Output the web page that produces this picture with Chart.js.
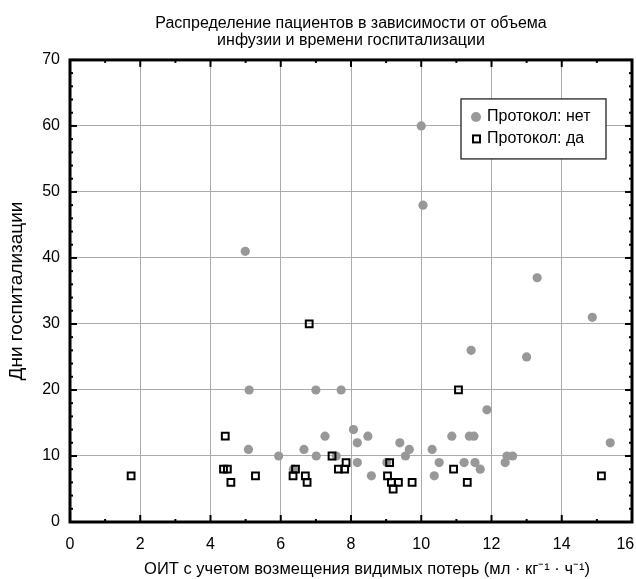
<!DOCTYPE html>
<html>
  <head>
    <meta charset="utf-8">
    <script src="https://cdn.jsdelivr.net/npm/chart.js@4"></script>
    <style>
      body { margin: 0; background: #fff; }
    </style>
  </head>
  <body>
    <canvas id="canvas" width="636" height="579"></canvas>
    <script>
      const FONT = "'Liberation Sans', Arial, Helvetica, sans-serif";

      const titleLines = ['Распределение пациентов в зависимости от объема', 'инфузии и времени госпитализации'];
      const xTitle = 'ОИТ с учетом возмещения видимых потерь (мл · кг⁻¹ · ч⁻¹)';
      const yTitle = 'Дни госпитализации';
      const seriesNames = ['Протокол: нет', 'Протокол: да'];

      // axis ranges / tick steps
      const xRange = [0, 16];
      const yRange = [0, 70];
      const xMajorStep = 2, xMinorStep = 1;
      const yMajorStep = 10, yMinorStep = 2;

      // "Протокол: нет" (grey circles)
      const noX = [4.99, 10.0, 10.05, 13.3, 14.87, 11.42, 13.0, 5.1, 7.0, 7.72,
                   11.87, 8.07, 7.26, 8.48, 10.87, 11.37, 11.5, 8.18, 9.39, 15.38,
                   5.08, 6.66, 9.66, 10.31, 5.94, 7.01, 7.58, 9.55, 12.44, 12.6,
                   8.18, 9.02, 10.51, 11.22, 11.53, 12.39, 6.36, 11.68, 8.58, 10.37];
      const noY = [41, 60, 48, 37, 31, 26, 25, 20, 20, 20,
                   17, 14, 13, 13, 13, 13, 13, 12, 12, 12,
                   11, 11, 11, 11, 10, 10, 10, 10, 10, 10,
                   9, 9, 9, 9, 9, 9, 8, 8, 7, 7];

      // "Протокол: да" (open squares)
      const yesX = [1.74, 4.42, 4.37, 4.48, 4.58, 5.28, 6.42, 6.35, 6.7, 6.75,
                    6.81, 7.46, 7.64, 7.82, 7.86, 9.04, 9.1, 9.15, 9.35, 9.2,
                    9.74, 10.92, 11.06, 11.31, 15.13];
      const yesY = [7, 13, 8, 8, 6, 7, 8, 7, 7, 6,
                    30, 10, 8, 8, 9, 7, 9, 6, 6, 5,
                    6, 8, 20, 6, 7];

      const GREY = '#989898';

      const toPoints = (xs, ys) => xs.map((x, i) => ({ x: x, y: ys[i] }));

      // closed frame with inward major/minor ticks on all four sides
      const framePlugin = {
        id: 'frame',
        afterDatasetsDraw(chart) {
          const { ctx, chartArea: a, scales: { x, y } } = chart;
          const seg = (x1, y1, x2, y2) => {
            ctx.beginPath();
            ctx.moveTo(x1, y1);
            ctx.lineTo(x2, y2);
            ctx.stroke();
          };
          ctx.save();
          ctx.strokeStyle = '#000';
          ctx.lineWidth = 2;
          for (let v = xRange[0]; v <= xRange[1]; v += xMinorStep) {
            const px = x.getPixelForValue(v);
            const len = v % xMajorStep === 0 ? 7 : 3;
            seg(px, a.bottom, px, a.bottom - len);
            seg(px, a.top, px, a.top + len);
          }
          for (let v = yRange[0]; v <= yRange[1]; v += yMinorStep) {
            const py = y.getPixelForValue(v);
            const len = v % yMajorStep === 0 ? 7 : 3;
            seg(a.left, py, a.left + len, py);
            seg(a.right, py, a.right - len, py);
          }
          ctx.lineWidth = 3;
          ctx.strokeRect(a.left, a.top, a.right - a.left, a.bottom - a.top);
          ctx.restore();
        }
      };

      // boxed legend inside the plot, top right
      const boxLegendPlugin = {
        id: 'boxLegend',
        afterDraw(chart) {
          const { ctx, chartArea: a } = chart;
          const left = a.right - 171, top = a.top + 39, w = 145, h = 60;
          ctx.save();
          ctx.fillStyle = '#fff';
          ctx.fillRect(left, top, w, h);
          ctx.strokeStyle = '#222';
          ctx.lineWidth = 1.3;
          ctx.strokeRect(left, top, w, h);

          ctx.fillStyle = GREY;
          ctx.beginPath();
          ctx.arc(left + 15, top + 18, 5, 0, Math.PI * 2);
          ctx.fill();

          ctx.strokeStyle = '#000';
          ctx.lineWidth = 2;
          ctx.strokeRect(left + 12, top + 36.5, 7, 7);

          ctx.fillStyle = '#000';
          ctx.font = '16px ' + FONT;
          ctx.textBaseline = 'middle';
          ctx.fillText(seriesNames[0], left + 26, top + 18);
          ctx.fillText(seriesNames[1], left + 26, top + 40);
          ctx.restore();
        }
      };

      new Chart(document.getElementById('canvas').getContext('2d'), {
        type: 'scatter',
        data: {
          datasets: [
            {
              label: seriesNames[0],
              data: toPoints(noX, noY),
              order: 1,
              pointStyle: 'circle',
              pointRadius: 4.6,
              pointBorderWidth: 0,
              backgroundColor: GREY,
              borderColor: GREY,
            },
            {
              label: seriesNames[1],
              data: toPoints(yesX, yesY),
              order: 0,
              pointStyle: 'rect',
              pointRadius: 4.8,
              pointBorderWidth: 2,
              backgroundColor: 'rgba(0,0,0,0)',
              borderColor: '#000',
            },
          ],
        },
        options: {
          responsive: false,
          animation: false,
          events: [],
          layout: { autoPadding: false, padding: { top: 0, right: 4, bottom: 0, left: 0 } },
          plugins: {
            legend: { display: false },
            tooltip: { enabled: false },
            title: {
              display: true,
              fullSize: false,
              text: titleLines,
              color: '#000',
              font: { family: FONT, size: 16, weight: 'normal', lineHeight: 1.06 },
              padding: { top: 15, bottom: 11 },
            },
          },
          scales: {
            x: {
              type: 'linear',
              min: xRange[0],
              max: xRange[1],
              grid: { color: '#ababab', lineWidth: 1, drawTicks: false },
              border: { display: false },
              ticks: {
                stepSize: xMajorStep,
                color: '#000',
                padding: 13,
                font: { family: FONT, size: 16 },
                maxRotation: 0,
                // last label sits inside the canvas edge, as in the source figure
                callback: (v) => (v === xRange[1] ? v + '   ' : '' + v),
              },
              title: {
                display: true,
                // leading spaces nudge the centred title right, as in the source
                text: '       ' + xTitle,
                color: '#000',
                font: { family: FONT, size: 16.5 },
                padding: { top: 0, bottom: 0 },
              },
              afterFit: (scale) => {
                scale.height = 57;
                scale.paddingLeft = 0;
                scale.paddingRight = 0;
              },
            },
            y: {
              type: 'linear',
              min: yRange[0],
              max: yRange[1],
              grid: { color: '#ababab', lineWidth: 1, drawTicks: false },
              border: { display: false },
              ticks: {
                stepSize: yMajorStep,
                color: '#000',
                padding: 10,
                font: { family: FONT, size: 16 },
              },
              title: {
                display: true,
                text: yTitle,
                color: '#000',
                font: { family: FONT, size: 19 },
                padding: { top: 5, bottom: 0 },
              },
              afterFit: (scale) => {
                scale.width = 70;
              },
            },
          },
        },
        plugins: [framePlugin, boxLegendPlugin],
      });
    </script>
  </body>
</html>
